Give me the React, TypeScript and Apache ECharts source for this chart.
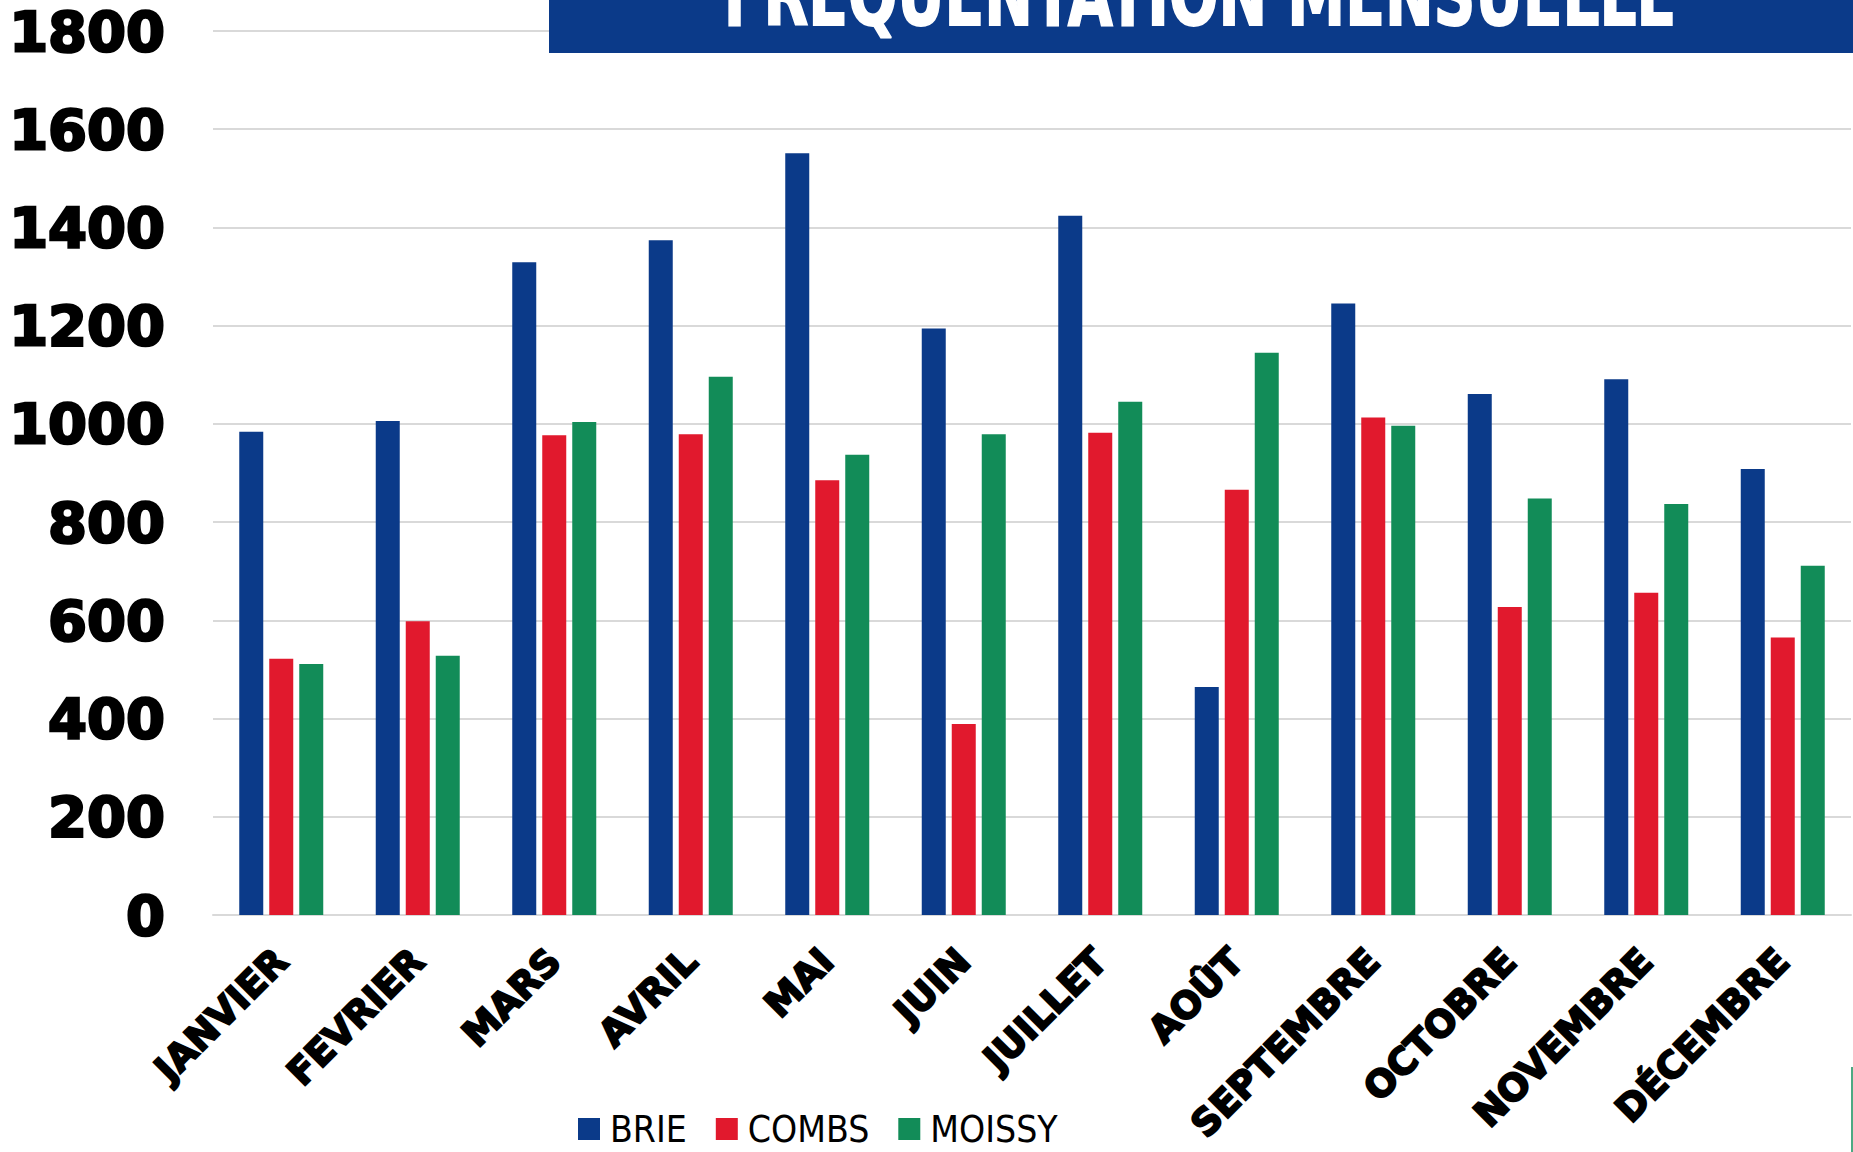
import React, { useEffect, useRef } from "react";
import * as echarts from "echarts";

const categories = [
  "JANVIER", "FEVRIER", "MARS", "AVRIL", "MAI", "JUIN",
  "JUILLET", "AOÛT", "SEPTEMBRE", "OCTOBRE", "NOVEMBRE", "DÉCEMBRE",
];
const seriesNames = ["BRIE", "COMBS", "MOISSY"];
const brie = [984, 1006, 1329, 1374, 1551, 1194, 1424, 464, 1245, 1061, 1091, 908];
const combs = [522, 598, 977, 979, 885, 389, 982, 866, 1013, 627, 656, 565];
const moissy = [511, 528, 1004, 1096, 937, 979, 1045, 1145, 996, 848, 837, 711];
const yTicks = { min: 0, max: 1800, interval: 200 };
const titleText = "FRÉQUENTATION MENSUELLE";

const BLUE = "#0B3A89";
const RED = "#E1192D";
const GREEN = "#128C58";

const TITLE_FONT = "'Liberation Sans Narrow', 'DejaVu Sans Condensed', 'Arial Narrow', sans-serif";
const HEAVY_FONT = "'DejaVu Sans', 'Verdana', sans-serif";

function measure(text: string, font: string): number {
  const c = document.createElement("canvas");
  const ctx = c.getContext("2d");
  if (!ctx) return 1;
  ctx.font = font;
  return ctx.measureText(text).width || 1;
}

export default function App() {
  const ref = useRef<HTMLDivElement>(null);

  useEffect(() => {
    if (!ref.current) return;
    const chart = echarts.init(ref.current, undefined, { renderer: "svg" });

    const titleFs = 72;
    const titleSy = 1.2;
    const tw = measure(titleText, `bold ${titleFs}px ${TITLE_FONT}`);
    const titleSx = 953 / tw;

    const mkSeries = (name: string, data: number[], color: string) => ({
      name,
      type: "bar",
      data,
      barWidth: 24,
      barGap: "25%",
      itemStyle: { color },
    });

    chart.setOption({
      animation: false,
      backgroundColor: "#ffffff",
      grid: {
        left: 213,
        right: 2,
        top: 31,
        bottom: 237,
        containLabel: false,
        outerBoundsMode: "none",
      },
      legend: {
        data: seriesNames,
        left: 573,
        top: 1105,
        icon: "rect",
        itemWidth: 22,
        itemHeight: 22,
        itemGap: 29,
        textStyle: {
          fontFamily: TITLE_FONT,
          fontSize: 37,
          color: "#000",
          lineHeight: 38,
          padding: [0, 0, 0, 5],
        },
      },
      xAxis: {
        type: "category",
        data: categories,
        axisTick: { show: false },
        axisLine: { show: true, lineStyle: { color: "#D9D9D9", width: 2 } },
        axisLabel: {
          interval: 0,
          rotate: 45,
          margin: 40,
          fontFamily: HEAVY_FONT,
          fontWeight: "bold",
          fontSize: 37,
          color: "#000",
          textBorderColor: "#000",
          textBorderWidth: 2,
        },
      },
      yAxis: {
        type: "value",
        min: yTicks.min,
        max: yTicks.max,
        interval: yTicks.interval,
        axisLine: { show: false },
        axisTick: { show: false },
        splitLine: { lineStyle: { color: "#D9D9D9", width: 2 } },
        axisLabel: {
          margin: 48,
          formatter: (v: number) => String(v),
          fontFamily: HEAVY_FONT,
          fontWeight: "bold",
          fontSize: 56,
          color: "#000",
          textBorderColor: "#000",
          textBorderWidth: 2.5,
        },
      },
      series: [
        mkSeries(seriesNames[0], brie, BLUE),
        mkSeries(seriesNames[1], combs, RED),
        mkSeries(seriesNames[2], moissy, GREEN),
      ],
      graphic: [
        {
          type: "rect",
          left: 549,
          top: 0,
          shape: { x: 0, y: 0, width: 1304, height: 53 },
          style: { fill: BLUE },
          z: 10,
        },
        {
          type: "text",
          x: 1200,
          y: 26 - 0.358 * titleFs * titleSy,
          scaleX: titleSx,
          scaleY: titleSy,
          z: 11,
          style: {
            text: titleText,
            fontFamily: TITLE_FONT,
            fontWeight: "bold",
            fontSize: titleFs,
            fill: "#ffffff",
            align: "center",
            verticalAlign: "middle",
            stroke: "#ffffff",
            lineWidth: 1.5,
          },
        },
        {
          type: "line",
          shape: { x1: 1852, y1: 1067, x2: 1852, y2: 1152 },
          style: { stroke: GREEN, lineWidth: 1.5 },
        },
      ],
    });

    return () => chart.dispose();
  }, []);

  return (
    <div
      ref={ref}
      style={{ position: "fixed", left: 0, top: 0, width: 1853, height: 1152, background: "#fff" }}
    />
  );
}
